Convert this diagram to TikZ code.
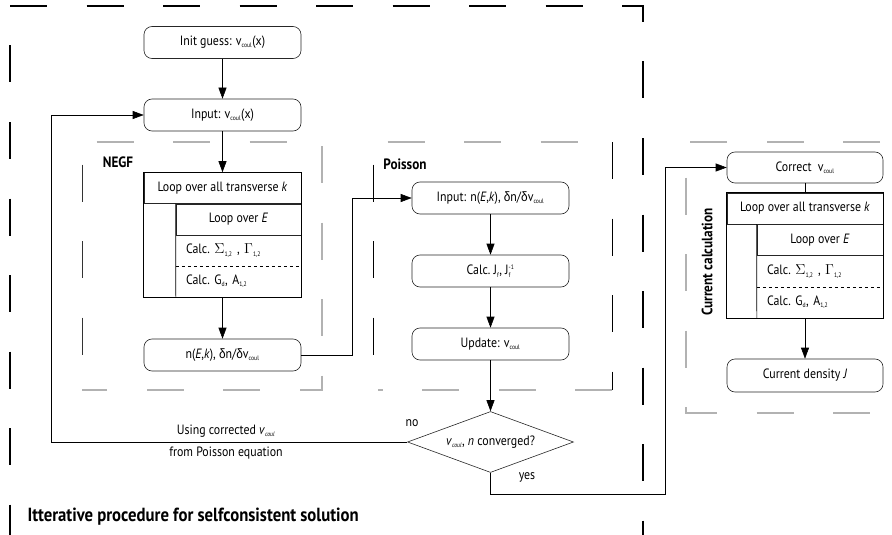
\documentclass[tikz,border=0pt]{standalone}
\usepackage{fontspec}
\setmainfont{PT Sans}[FakeStretch=0.88]
\newfontfamily\grk{Liberation Sans}[FakeStretch=0.88]
\usetikzlibrary{shapes,arrows.meta,positioning}

\newcommand{\lowidx}[1]{\textsubscript{\fontsize{6.5}{6.5}\selectfont #1}}
\newcommand{\highidx}[1]{\textsuperscript{\fontsize{6.5}{6.5}\selectfont #1}}
\newcommand{\vcoul}{v\lowidx{coul}}
\newcommand{\dlt}{{\grk δ}}
\newcommand{\bigsym}[1]{{\fontsize{14.5}{14.5}\selectfont$#1$}}

\begin{document}
\begin{tikzpicture}[x=1pt,y=-1pt,font=\fontsize{13.5}{15}\selectfont]
  \tikzset{
    stepbox/.style={draw=black!85, rounded corners=8pt, minimum width=157pt, minimum height=32pt, inner sep=2pt, line width=0.6pt},
    cell/.style={draw=black!85, minimum height=31pt, inner sep=0pt, line width=0.6pt},
    calcrow/.style={draw=none, minimum height=31pt, text width=105pt, inner xsep=10pt, inner ysep=0pt, align=left},
    decision/.style={diamond, draw=black!85, aspect=2.7, minimum width=166pt, minimum height=61pt, inner sep=0pt, line width=0.6pt},
    boxtitle/.style={draw=none, font=\fontsize{15}{17}\selectfont\bfseries},
    myarrow/.style={-{Triangle[length=11pt,width=8pt]}, line width=0.6pt},
    link/.style={line width=0.6pt},
    frameblack/.style={dash pattern=on 37pt off 39.5pt, line width=1.1pt},
    framegray/.style={black!30, dash pattern=on 37pt off 39.5pt, line width=1.1pt},
  }
  \useasboundingbox (0,0) rectangle (892,535);

  \draw[frameblack] (10,6) -- (643,6) -- (643,535);
  \draw[frameblack, dash phase=37pt] (10,6) -- (10,535);

  \draw[framegray, dash phase=62pt] (82,142) -- (322,142) -- (322,390) -- (82,390);
  \draw[frameblack, black!80, line width=0.9pt, dash phase=54pt] (82,142) -- (82,390);

  \draw[framegray, dash phase=62pt] (373,142) -- (612,142);
  \draw[frameblack, line width=0.9pt] (612,142) -- (612,390);
  \draw[framegray] (612,390) -- (378,390);
  \draw[frameblack, line width=0.9pt, dash phase=54pt] (373,142) -- (373,390);

  \draw[framegray, dash phase=64.5pt] (892,142) -- (686,142) -- (686,413) -- (892,413);

  \node[stepbox] (init) at (222.5,42.5) {Init guess: \vcoul(x)};
  \node[stepbox] (input) at (222.5,115) {Input: \vcoul(x)};

  \node[boxtitle] (negf) at (118,162) {NEGF};
  \node[cell, minimum width=157pt] (negfk) at (222.5,188) {Loop over all transverse \emph{k}};
  \node[cell, minimum width=125pt] (negfe) at (238.5,219.5) {Loop over \emph{E}};
  \node[calcrow] (negfs) at (238.5,250.5) {Calc.~\bigsym{\Sigma}\lowidx{1,2} , \bigsym{\Gamma}\lowidx{1,2}};
  \node[calcrow] (negfg) at (238.5,281.5) {Calc.\ G\lowidx{d}, A\lowidx{1,2}};
  \node[stepbox] (nek) at (222.5,355) {n(\emph{E},\emph{k}), \dlt n/\dlt\vcoul};

  \node[boxtitle] (poisson) at (405,164) {Poisson};
  \node[stepbox] (pin) at (490.5,198) {Input: n(\emph{E},\emph{k}), \dlt n/\dlt\vcoul};
  \node[stepbox] (pcalc) at (490.5,271) {Calc.\ J\lowidx{f}, J\rlap{\lowidx{f}}\highidx{-1}};
  \node[stepbox] (pupd) at (490.5,344) {Update: \vcoul};
  \node[decision] (conv) at (490.5,442) {\emph{v}\lowidx{\emph{coul}}, \emph{n} converged?};

  \node (usingtxt) at (226,431) {Using corrected \emph{v}\lowidx{\emph{coul}}};
  \node (fromtxt) at (226,453) {from Poisson equation};
  \node (notxt) at (412,423) {no};
  \node (yestxt) at (527,477) {yes};

  \node[stepbox, minimum width=156pt, minimum height=31pt] (corr) at (805,167.5) {Correct\ \ \vcoul};
  \node[cell, minimum width=156pt] (curk) at (805,208.5) {Loop over all transverse \emph{k}};
  \node[cell, minimum width=126pt] (cure) at (820,240) {Loop over \emph{E}};
  \node[calcrow, text width=106pt] (curs) at (820,271.5) {Calc.~\bigsym{\Sigma}\lowidx{1,2} , \bigsym{\Gamma}\lowidx{1,2}};
  \node[calcrow, text width=106pt] (curg) at (820,302.5) {Calc.\ G\lowidx{d}, A\lowidx{1,2}};
  \node[stepbox, minimum width=156pt, minimum height=33pt] (dens) at (805,375.5) {Current density \emph{J}};
  \node[boxtitle, rotate=90] (curtitle) at (707,262) {Current calculation};

  \node[boxtitle, anchor=west, font=\fontsize{19}{21}\selectfont\bfseries] (itertitle) at (24,517) {Itterative procedure for selfconsistent solution};

  \draw[link] (negfk.north west) rectangle (negfg.south east);
  \draw[link] (negfe.north west) -- (negfg.south west);
  \draw[link, dashed] (negfs.south west) -- (negfs.south east);

  \draw[link] (curk.north west) rectangle (curg.south east);
  \draw[link] (cure.north west) -- (curg.south west);
  \draw[link, dashed] (curs.south west) -- (curs.south east);

  \draw[myarrow] (init) -- (input);
  \draw[myarrow] (input) -- (negfk);
  \draw[myarrow] (negfk.center |- negfg.south) -- (nek);
  \draw[myarrow] (nek.east) -- ++(51,0) |- (pin.west);
  \draw[myarrow] (pin) -- (pcalc);
  \draw[myarrow] (pcalc) -- (pupd);
  \draw[myarrow] (pupd) -- (conv);

  \coordinate (back) at (51,442);
  \draw[myarrow] (conv.west) -- (back) |- (input.west);

  \coordinate (fwd) at (665,494);
  \draw[myarrow] (conv.south) |- (fwd) |- (corr.west);

  \draw[link] (corr) -- (curk);
  \draw[myarrow] (curk.center |- curg.south) -- (dens);

\end{tikzpicture}
\end{document}
